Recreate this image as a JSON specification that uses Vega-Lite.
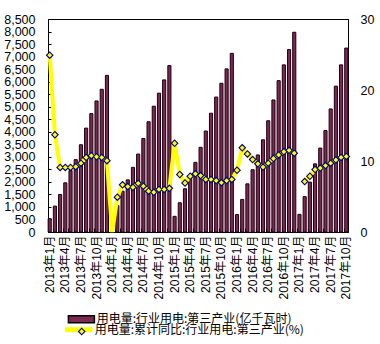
{
  "$schema": "https://vega.github.io/schema/vega-lite/v6.json",
  "width": 300,
  "height": 213,
  "autosize": {"type": "none"},
  "padding": {"left": 48, "top": 19, "right": 32, "bottom": 112},
  "background": "white",
  "config": {
    "font": "Liberation Sans, Noto Sans CJK SC",
    "view": {"stroke": "black", "strokeWidth": 1},
    "axis": {"grid": false, "domainColor": "black", "tickColor": "black", "labelColor": "black", "labelFont": "Liberation Sans, Noto Sans CJK SC", "title": null},
    "legend": {"labelFont": "Noto Sans CJK SC", "labelFontSize": 12, "labelColor": "black", "padding": 0, "labelLimit": 400}
  },
  "data": {"values": [
    {"m": "2013年1月", "v": 532, "g": 24.9},
    {"m": "2013年2月", "v": 1033, "g": 13.7},
    {"m": "2013年3月", "v": 1497, "g": 9.1},
    {"m": "2013年4月", "v": 1962, "g": 9.1},
    {"m": "2013年5月", "v": 2450, "g": 9.1},
    {"m": "2013年6月", "v": 2887, "g": 9.2},
    {"m": "2013年7月", "v": 3483, "g": 9.7},
    {"m": "2013年8月", "v": 4146, "g": 10.5},
    {"m": "2013年9月", "v": 4726, "g": 10.75},
    {"m": "2013年10月", "v": 5230, "g": 10.6},
    {"m": "2013年11月", "v": 5695, "g": 10.5},
    {"m": "2013年12月", "v": 6250, "g": 10.05},
    {"m": "2014年1月", "v": 0, "g": 0},
    {"m": "2014年2月", "v": 1060, "g": 4.9},
    {"m": "2014年3月", "v": 1630, "g": 6.65},
    {"m": "2014年4月", "v": 2080, "g": 6.4},
    {"m": "2014年5月", "v": 2580, "g": 6.3},
    {"m": "2014年6月", "v": 3110, "g": 6.85},
    {"m": "2014年7月", "v": 3730, "g": 6.45},
    {"m": "2014年8月", "v": 4400, "g": 5.75},
    {"m": "2014年9月", "v": 5020, "g": 5.6},
    {"m": "2014年10月", "v": 5540, "g": 6.0},
    {"m": "2014年11月", "v": 6070, "g": 6.0},
    {"m": "2014年12月", "v": 6640, "g": 6.15},
    {"m": "2015年1月", "v": 625, "g": 12.5},
    {"m": "2015年2月", "v": 1167, "g": 8.1},
    {"m": "2015年3月", "v": 1725, "g": 6.9},
    {"m": "2015年4月", "v": 2230, "g": 7.85},
    {"m": "2015年5月", "v": 2780, "g": 8.2},
    {"m": "2015年6月", "v": 3380, "g": 7.95},
    {"m": "2015年7月", "v": 4030, "g": 7.4},
    {"m": "2015年8月", "v": 4740, "g": 7.4},
    {"m": "2015年9月", "v": 5385, "g": 7.25},
    {"m": "2015年10月", "v": 5935, "g": 6.95},
    {"m": "2015年11月", "v": 6510, "g": 7.25},
    {"m": "2015年12月", "v": 7130, "g": 7.4},
    {"m": "2016年1月", "v": 695, "g": 8.7},
    {"m": "2016年2月", "v": 1300, "g": 11.85},
    {"m": "2016年3月", "v": 1922, "g": 11.0},
    {"m": "2016年4月", "v": 2485, "g": 10.2},
    {"m": "2016年5月", "v": 3075, "g": 9.6},
    {"m": "2016年6月", "v": 3680, "g": 9.15},
    {"m": "2016年7月", "v": 4440, "g": 9.7},
    {"m": "2016年8月", "v": 5270, "g": 10.35},
    {"m": "2016年9月", "v": 6040, "g": 10.85},
    {"m": "2016年10月", "v": 6670, "g": 11.3},
    {"m": "2016年11月", "v": 7280, "g": 11.5},
    {"m": "2016年12月", "v": 7970, "g": 11.1},
    {"m": "2017年1月", "v": 703, "g": null},
    {"m": "2017年2月", "v": 1410, "g": 7.1},
    {"m": "2017年3月", "v": 1990, "g": 7.85},
    {"m": "2017年4月", "v": 2720, "g": 8.8},
    {"m": "2017年5月", "v": 3350, "g": 9.0},
    {"m": "2017年6月", "v": 4050, "g": 9.35},
    {"m": "2017年7月", "v": 4910, "g": 9.7},
    {"m": "2017年8月", "v": 5820, "g": 10.15},
    {"m": "2017年9月", "v": 6670, "g": 10.5},
    {"m": "2017年10月", "v": 7340, "g": 10.65}
  ]},
  "layer": [
    {
      "mark": {"type": "bar", "stroke": "#1a0010", "strokeWidth": 1},
      "encoding": {
        "x": {
          "field": "m", "type": "ordinal", "sort": null,
          "scale": {"paddingInner": 0.4, "paddingOuter": 0.03},
          "axis": {
            "labelAngle": -90, "labelFontSize": 12, "labelPadding": 7, "tickSize": -4, "bandPosition": 0,
            "labelExpr": "(indexof(datum.label,'年1月')>0 || indexof(datum.label,'年4月')>0 || indexof(datum.label,'年7月')>0 || indexof(datum.label,'年10月')>0) ? datum.label : ''"
          }
        },
        "y": {
          "field": "v", "type": "quantitative",
          "scale": {"domain": [0, 8500], "nice": false},
          "axis": {"orient": "left", "values": [0,500,1000,1500,2000,2500,3000,3500,4000,4500,5000,5500,6000,6500,7000,7500,8000,8500], "format": ",.0f", "labelFontSize": 12.5, "tickSize": -3, "labelPadding": 16}
        },
        "fill": {
          "datum": "用电量:行业用电:第三产业(亿千瓦时)",
          "scale": {"range": ["#7d2850"]},
          "legend": {"orient": "none", "legendX": 19.4, "legendY": 286.3, "title": null, "symbolType": "M-1,-0.27H1V0.27H-1Z", "symbolSize": 676, "symbolFillColor": "#993366", "symbolStrokeColor": "black", "symbolStrokeWidth": 1.5, "labelOffset": 1.3}
        }
      }
    },
    {
      "layer": [
        {
          "mark": {"type": "line", "strokeWidth": 4, "invalid": "break-paths-filter-domains"},
          "encoding": {
            "x": {"field": "m", "type": "ordinal", "sort": null},
            "y": {
              "field": "g", "type": "quantitative",
              "scale": {"domain": [0, 30], "nice": false},
              "axis": {"orient": "right", "values": [0,5,10,15,20,25,30], "labelFontSize": 12.5, "tickSize": -3, "labelPadding": 15}
            },
            "stroke": {
              "datum": "用电量:累计同比:行业用电:第三产业(%)",
              "scale": {"range": ["#ffff00"]},
              "legend": {"orient": "none", "legendX": 14.2, "legendY": 294.2, "title": null, "symbolType": "stroke", "symbolSize": 760, "symbolStrokeWidth": 5, "labelOffset": -0.5}
            }
          }
        },
        {
          "transform": [{"filter": "datum.g > 0"}],
          "mark": {"type": "point", "filled": true, "fill": "#000080", "strokeWidth": 0, "size": 64, "opacity": 1},
          "encoding": {
            "x": {"field": "m", "type": "ordinal", "sort": null},
            "y": {"field": "g", "type": "quantitative"},
            "shape": {
              "datum": "◆",
              "scale": {"range": ["diamond"]},
              "legend": {"orient": "none", "legendX": 27.7, "legendY": 306.5, "title": null, "symbolSize": 64, "symbolStrokeWidth": 0, "labelExpr": "''"}
            }
          }
        },
        {
          "transform": [{"filter": "datum.g > 0"}],
          "mark": {"type": "point", "filled": true, "fill": "#ffff00", "strokeWidth": 0, "size": 64, "opacity": 1},
          "encoding": {
            "x": {"field": "m", "type": "ordinal", "sort": null},
            "y": {"field": "g", "type": "quantitative"},
            "shape": {
              "datum": "◇",
              "scale": {"range": ["M0,-0.6L0.6,0L0,0.6L-0.6,0Z"]},
              "legend": {"orient": "none", "legendX": 27.7, "legendY": 306.5, "title": null, "symbolSize": 64, "symbolStrokeWidth": 0, "labelExpr": "''"}
            }
          }
        }
      ],
      "resolve": {"scale": {"shape": "independent"}, "legend": {"shape": "independent"}}
    }
  ],
  "resolve": {"scale": {"y": "independent"}}
}
